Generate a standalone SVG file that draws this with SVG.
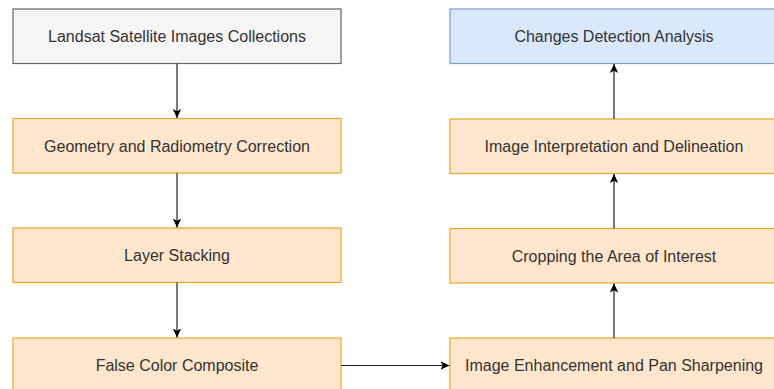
<svg xmlns="http://www.w3.org/2000/svg" width="774" height="389" viewBox="0 0 774 389">
<defs>
<style>
.box{stroke-width:1.2}
.gray{fill:#f5f5f5;stroke:#666666}
.orange{fill:#ffe6cc;stroke:#e3a92a}
.blue{fill:#dae8fc;stroke:#7e9ccb}
.lbl{font-family:"Liberation Sans",Arial,sans-serif;font-size:16px;fill:#333333;text-anchor:middle}
.edge{stroke:#222222;stroke-width:1.2;fill:none}
</style>
<marker id="arr" markerWidth="10" markerHeight="10" viewBox="0 0 10 10" refX="9" refY="5" orient="auto" markerUnits="userSpaceOnUse">
<path d="M0,0.8 L9,5 L0,9.2 L2.2,5 Z" fill="#000000"/>
</marker>
</defs>
<rect width="774" height="389" fill="#ffffff"/>
<g id="n1"><rect class="box gray" x="13" y="9" width="328" height="54.5"/><text class="lbl" x="177" y="42.2">Landsat Satellite Images Collections</text></g>
<g id="n2"><rect class="box orange" x="13" y="118.5" width="328" height="54.5"/><text class="lbl" x="177" y="151.7">Geometry and Radiometry Correction</text></g>
<g id="n3"><rect class="box orange" x="13" y="228" width="328" height="54.5"/><text class="lbl" x="177" y="261.2">Layer Stacking</text></g>
<g id="n4"><rect class="box orange" x="13" y="338" width="328" height="54.5"/><text class="lbl" x="177" y="371.2">False Color Composite</text></g>
<g id="n5"><rect class="box orange" x="450" y="338" width="328" height="54.5"/><text class="lbl" x="614" y="371.2">Image Enhancement and Pan Sharpening</text></g>
<g id="n6"><rect class="box orange" x="450" y="228.5" width="328" height="54.5"/><text class="lbl" x="614" y="261.7">Cropping the Area of Interest</text></g>
<g id="n7"><rect class="box orange" x="450" y="119" width="328" height="54.5"/><text class="lbl" x="614" y="152.2">Image Interpretation and Delineation</text></g>
<g id="n8"><rect class="box blue" x="450" y="9" width="328" height="54.5"/><text class="lbl" x="614" y="42.2">Changes Detection Analysis</text></g>
<g id="edges">
<line class="edge" x1="177" y1="63.5" x2="177" y2="118" marker-end="url(#arr)"/>
<line class="edge" x1="177" y1="173" x2="177" y2="227.5" marker-end="url(#arr)"/>
<line class="edge" x1="177" y1="282.5" x2="177" y2="337.5" marker-end="url(#arr)"/>
<line class="edge" x1="341" y1="365.5" x2="449.5" y2="365.5" marker-end="url(#arr)"/>
<line class="edge" x1="614" y1="338" x2="614" y2="283.5" marker-end="url(#arr)"/>
<line class="edge" x1="614" y1="228.5" x2="614" y2="174" marker-end="url(#arr)"/>
<line class="edge" x1="614" y1="119" x2="614" y2="64" marker-end="url(#arr)"/>
</g>
</svg>
